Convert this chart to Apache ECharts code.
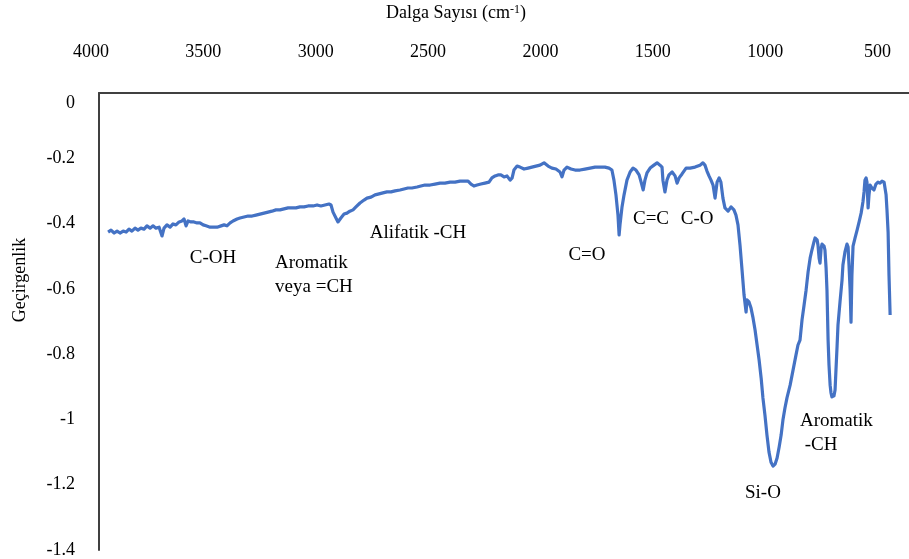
<!DOCTYPE html>
<html>
<head>
<meta charset="utf-8">
<script src="https://cdn.jsdelivr.net/npm/echarts@6/dist/echarts.min.js"></script>
<style>html,body{margin:0;padding:0;background:#fff}#c{width:909px;height:559px}</style>
</head>
<body>
<div id="c"></div>
<script>
// Wavenumber (cm-1) and transmittance values
var wavenumbers = [3924,3911,3897,3884,3871,3857,3844,3831,3818,3804,3791,3778,3764,3751,3737,3724,3711,3697,3684,3675,3662,3648,3635,3622,3608,3595,3586,3577,3568,3555,3542,3528,3515,3501,3488,3470,3453,3439,3421,3408,3395,3381,3368,3350,3337,3319,3301,3283,3266,3248,3230,3212,3195,3177,3159,3141,3123,3106,3088,3070,3052,3034,3012,2994,2977,2959,2941,2932,2923,2910,2901,2888,2874,2861,2848,2834,2821,2803,2785,2772,2754,2736,2718,2701,2683,2665,2647,2625,2607,2590,2572,2549,2532,2514,2491,2469,2447,2425,2402,2380,2358,2336,2322,2309,2296,2282,2265,2247,2229,2216,2202,2189,2176,2162,2149,2135,2126,2118,2104,2091,2073,2055,2038,2020,2002,1984,1966,1949,1931,1913,1904,1895,1882,1864,1846,1824,1802,1779,1757,1735,1713,1695,1682,1673,1664,1655,1650,1646,1637,1628,1615,1601,1588,1575,1561,1552,1543,1535,1526,1512,1495,1481,1468,1459,1455,1446,1437,1428,1414,1401,1392,1383,1370,1352,1334,1312,1290,1277,1268,1259,1250,1241,1232,1223,1214,1205,1197,1188,1179,1165,1152,1139,1130,1121,1112,1103,1094,1085,1081,1072,1063,1054,1045,1036,1027,1018,1010,1001,992,983,974,965,956,947,938,929,921,912,903,889,876,863,854,845,836,827,818,809,800,792,783,778,769,765,760,756,751,747,738,734,729,725,720,716,711,707,703,698,694,689,685,680,676,667,658,654,645,636,631,627,622,618,614,609,600,591,582,573,565,560,556,551,547,542,538,533,525,516,507,498,489,480,471,462,458,453,449,444];
var transmittance = [-0.426,-0.420,-0.429,-0.423,-0.429,-0.423,-0.426,-0.417,-0.423,-0.414,-0.420,-0.414,-0.417,-0.407,-0.414,-0.407,-0.414,-0.411,-0.438,-0.414,-0.404,-0.411,-0.401,-0.404,-0.395,-0.392,-0.386,-0.407,-0.392,-0.395,-0.395,-0.398,-0.398,-0.404,-0.407,-0.411,-0.411,-0.411,-0.407,-0.404,-0.407,-0.398,-0.392,-0.386,-0.383,-0.380,-0.377,-0.377,-0.374,-0.371,-0.368,-0.365,-0.362,-0.358,-0.358,-0.355,-0.352,-0.352,-0.352,-0.349,-0.349,-0.346,-0.346,-0.343,-0.346,-0.343,-0.340,-0.343,-0.365,-0.383,-0.395,-0.383,-0.371,-0.368,-0.362,-0.358,-0.349,-0.337,-0.328,-0.322,-0.319,-0.312,-0.309,-0.306,-0.303,-0.303,-0.300,-0.297,-0.294,-0.291,-0.291,-0.288,-0.285,-0.282,-0.282,-0.279,-0.276,-0.276,-0.273,-0.273,-0.270,-0.270,-0.270,-0.279,-0.285,-0.282,-0.279,-0.276,-0.273,-0.260,-0.254,-0.251,-0.251,-0.257,-0.254,-0.267,-0.260,-0.236,-0.224,-0.227,-0.233,-0.230,-0.227,-0.224,-0.221,-0.214,-0.224,-0.230,-0.233,-0.242,-0.257,-0.236,-0.227,-0.233,-0.236,-0.236,-0.233,-0.230,-0.227,-0.227,-0.227,-0.230,-0.236,-0.267,-0.312,-0.374,-0.435,-0.404,-0.349,-0.312,-0.267,-0.242,-0.230,-0.236,-0.251,-0.273,-0.297,-0.267,-0.245,-0.230,-0.221,-0.214,-0.221,-0.227,-0.267,-0.303,-0.267,-0.251,-0.242,-0.254,-0.276,-0.260,-0.248,-0.230,-0.230,-0.227,-0.221,-0.214,-0.221,-0.239,-0.254,-0.267,-0.282,-0.322,-0.273,-0.260,-0.273,-0.322,-0.352,-0.362,-0.349,-0.358,-0.374,-0.404,-0.466,-0.542,-0.619,-0.671,-0.634,-0.640,-0.659,-0.689,-0.726,-0.772,-0.818,-0.873,-0.934,-0.987,-1.048,-1.100,-1.131,-1.143,-1.137,-1.118,-1.085,-1.048,-1.002,-0.965,-0.934,-0.895,-0.849,-0.803,-0.772,-0.757,-0.695,-0.650,-0.604,-0.548,-0.506,-0.481,-0.456,-0.444,-0.450,-0.466,-0.506,-0.521,-0.475,-0.463,-0.469,-0.481,-0.536,-0.604,-0.757,-0.833,-0.895,-0.919,-0.931,-0.934,-0.928,-0.910,-0.849,-0.775,-0.711,-0.640,-0.573,-0.527,-0.487,-0.463,-0.472,-0.527,-0.604,-0.702,-0.558,-0.469,-0.444,-0.420,-0.395,-0.368,-0.334,-0.303,-0.267,-0.260,-0.273,-0.352,-0.312,-0.282,-0.291,-0.297,-0.279,-0.273,-0.276,-0.270,-0.273,-0.312,-0.358,-0.426,-0.558,-0.680];

var xTickValues = [4000, 3500, 3000, 2500, 2000, 1500, 1000, 500];
var xTitle = 'Dalga Sayısı (cm{sup|-1})';
var yTitle = 'Geçirgenlik';

// Band annotations (text, wavenumber, transmittance, alignment)
var annotationTexts = ['C-OH', 'Aromatik\nveya =CH', 'Alifatik -CH', 'C=O', 'C=C', 'C-O', 'Si-O', 'Aromatik\n -CH'];
var annotationX = [3457, 3181, 2545, 1793, 1508, 1303, 1010, 845];
var annotationY = [-0.506, -0.558, -0.429, -0.496, -0.386, -0.386, -1.225, -1.043];
var annotationAlign = ['center', 'left', 'center', 'center', 'center', 'center', 'center', 'left'];

var FONT = '"Liberation Serif", "Times New Roman", serif';
var chart = echarts.init(document.getElementById('c'), null, {renderer: 'canvas'});

var seriesData = wavenumbers.map(function (w, i) { return [w, transmittance[i]]; });
var markData = annotationTexts.map(function (t, i) {
  var left = annotationAlign[i] === 'left';
  return {
    name: t,
    coord: [annotationX[i], annotationY[i]],
    label: {position: left ? 'right' : 'inside', distance: 0, align: left ? 'left' : 'center'}
  };
});

chart.setOption({
  animation: false,
  backgroundColor: '#ffffff',
  grid: [
    {left: 91, right: 0, top: 93, bottom: 9, outerBoundsMode: 'none'},
    {left: 99, right: 0, top: 93, bottom: 9, outerBoundsMode: 'none'}
  ],
  xAxis: [
    {
      gridIndex: 0, type: 'value', position: 'top', inverse: true, min: 360, max: 4000,
      axisLine: {show: false}, axisTick: {show: false}, splitLine: {show: false},
      axisLabel: {customValues: xTickValues, margin: 32, color: '#000', fontSize: 18, fontFamily: FONT,
        formatter: function (v) { return String(v); }}
    },
    {
      gridIndex: 1, type: 'value', position: 'top', min: 0, max: 1,
      axisLine: {show: true, lineStyle: {color: '#404040', width: 2}},
      axisTick: {show: false}, axisLabel: {show: false}, splitLine: {show: false}
    }
  ],
  yAxis: [
    {gridIndex: 0, type: 'value', min: -1.4, max: 0, show: false},
    {
      gridIndex: 1, type: 'value', min: -1.4, max: 0, interval: 0.2,
      axisLine: {show: true, lineStyle: {color: '#404040', width: 2}},
      axisTick: {show: false}, splitLine: {show: false},
      axisLabel: {
        margin: 24, color: '#000', fontSize: 18, fontFamily: FONT,
        formatter: function (v) {
          var s = String(Math.round(v * 10) / 10);
          return v === 0 ? '{z|' + s + '}' : s;
        },
        rich: {z: {padding: [20, 0, 0, 0], fontSize: 18, fontFamily: FONT, color: '#000'}}
      }
    }
  ],
  graphic: [
    {
      type: 'text', left: 386, top: 4,
      style: {
        text: xTitle, fill: '#000', font: '18px ' + FONT,
        rich: {sup: {fontSize: 12, fontFamily: FONT, fill: '#000', verticalAlign: 'top', lineHeight: 14}}
      }
    },
    {
      type: 'text', x: 20, y: 280, rotation: Math.PI / 2,
      style: {text: yTitle, fill: '#000', font: '18px ' + FONT, align: 'center', verticalAlign: 'middle'}
    }
  ],
  series: [{
    type: 'line', xAxisIndex: 0, yAxisIndex: 0, data: seriesData,
    showSymbol: false, symbol: 'none',
    lineStyle: {color: '#4472C4', width: 3.2, join: 'round'}, itemStyle: {color: '#4472C4'},
    markPoint: {
      symbol: 'circle', symbolSize: 0, silent: true,
      label: {show: true, formatter: '{b}', color: '#000', fontSize: 19, lineHeight: 24, fontFamily: FONT},
      data: markData
    }
  }]
});
</script>
</body>
</html>
